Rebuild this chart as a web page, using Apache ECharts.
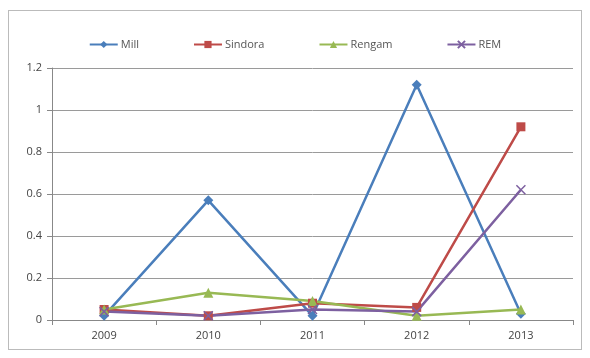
<!DOCTYPE html>
<html><head><meta charset="utf-8">
<script src="https://cdn.jsdelivr.net/npm/echarts@6/dist/echarts.min.js"></script>
<style>html,body{margin:0;padding:0;background:#fff}#c{width:590px;height:358px}
#frame{position:absolute;left:8px;top:10px;width:574px;height:340px;border:1px solid #bbb;box-sizing:border-box;pointer-events:none}</style>
</head><body><div id="c"></div><div id="frame"></div>
<script>
const categories = ['2009','2010','2011','2012','2013'];
const mill = [0.02, 0.57, 0.02, 1.12, 0.03];
const sindora = [0.05, 0.02, 0.08, 0.06, 0.92];
const rengam = [0.05, 0.13, 0.09, 0.02, 0.05];
const rem = [0.04, 0.02, 0.05, 0.04, 0.62];
const names = ['Mill','Sindora','Rengam','REM'];
const colors = ['#4A7EBB','#BE4B48','#98B954','#7D60A0'];
const symbols = ['diamond','rect','triangle','path://M0,0L10,10M10,0L0,10'];
const datas = [mill, sindora, rengam, rem];
const chart = echarts.init(document.getElementById('c'));
const font = 'Open Sans';
chart.setOption({
  animation:false,
  legend:{top:34,left:'center',itemGap:54,itemWidth:28,itemHeight:9,
    textStyle:{fontFamily:font,fontSize:11,color:'#555',padding:[0,0,0,-2]},
    data:names},
  grid:{left:52,right:17,top:68,bottom:38},
  xAxis:{type:'category',data:categories,boundaryGap:true,
    axisLine:{lineStyle:{color:'#888'}},axisTick:{show:true,lineStyle:{color:'#888'},length:5},
    axisLabel:{fontFamily:font,fontSize:11,color:'#444',margin:10}},
  yAxis:{type:'value',min:0,max:1.2,interval:0.2,
    axisLine:{show:true,lineStyle:{color:'#888'}},axisTick:{show:true,length:5,lineStyle:{color:'#888'}},
    splitLine:{lineStyle:{color:'#9a9a9a',width:1}},
    axisLabel:{fontFamily:font,fontSize:11,color:'#444',margin:10,formatter:v=>String(Math.round(v*10)/10)}},
  series:datas.map((d,i)=>({name:names[i],type:'line',data:d,color:colors[i],
    symbol:symbols[i],symbolSize:i===1?9:(i===3?9:10),
    lineStyle:{width:2.5,color:colors[i]},
    itemStyle:i===3?{color:colors[i],borderColor:colors[i],borderWidth:1.5}:{color:colors[i]}}))
});
</script></body></html>
